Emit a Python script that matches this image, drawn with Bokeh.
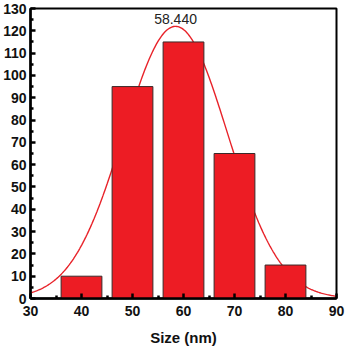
import numpy as np
from bokeh.plotting import figure
from bokeh.models import Range1d, FixedTicker, Label
from bokeh.embed import file_html
from bokeh.resources import INLINE

# Data
sizes = [40, 50, 60, 70, 80]
counts = [10, 95, 115, 65, 15]
bar_width = 8

# Gaussian fit parameters
fit_center = 58.44
fit_amplitude = 122
fit_sigma = 10.2
fit_label = "58.440"

x_ticks = [30, 40, 50, 60, 70, 80, 90]
x_minor = [35, 45, 55, 65, 75, 85]
y_ticks = list(range(0, 131, 10))
y_minor = list(range(5, 130, 10))

FONT = "Liberation Sans"

p = figure(width=348, height=348, output_backend="svg", toolbar_location=None,
           x_range=Range1d(30, 90), y_range=Range1d(0, 130),
           min_border_left=4, min_border_right=12, min_border_top=8, min_border_bottom=2)

p.xgrid.visible = False
p.ygrid.visible = False
p.outline_line_color = "black"
p.outline_line_width = 2
p.background_fill_color = "white"
p.border_fill_color = "white"

xs = np.linspace(30, 90, 300)
ys = fit_amplitude * np.exp(-(xs - fit_center) ** 2 / (2 * fit_sigma ** 2))
p.line(xs, ys, line_color="#E8232A", line_width=1.4)

p.vbar(x=sizes, top=counts, width=bar_width, bottom=0,
       fill_color="#ED1C24", line_color="#3a2a2a", line_width=1)

p.add_layout(Label(x=fit_center, y=125.5, text=fit_label, text_align="center",
                   text_baseline="middle", text_font=FONT, text_font_size="14px",
                   text_color="#222222"))

for ax, ticks, minor in ((p.xaxis[0], x_ticks, x_minor), (p.yaxis[0], y_ticks, y_minor)):
    ax.ticker = FixedTicker(ticks=ticks, minor_ticks=minor)
    ax.axis_line_width = 2.5
    ax.axis_line_color = "black"
    ax.major_tick_in = 5
    ax.major_tick_out = 0
    ax.minor_tick_in = 3
    ax.minor_tick_out = 0
    ax.major_tick_line_width = 2.5
    ax.minor_tick_line_width = 2.5
    ax.major_label_text_font = FONT
    ax.major_label_text_font_style = "bold"
    ax.major_label_text_font_size = "14px"
    ax.major_label_text_color = "#111111"

p.xaxis.major_label_standoff = 7
p.yaxis.major_label_standoff = 4
p.xaxis.axis_label = "Size (nm)"
p.xaxis.axis_label_text_font = FONT
p.xaxis.axis_label_text_font_style = "bold"
p.xaxis.axis_label_text_font_size = "15px"
p.xaxis.axis_label_standoff = 10
p.xaxis.axis_label_text_color = "#111111"

open("out.html", "w").write(file_html(p, INLINE))
